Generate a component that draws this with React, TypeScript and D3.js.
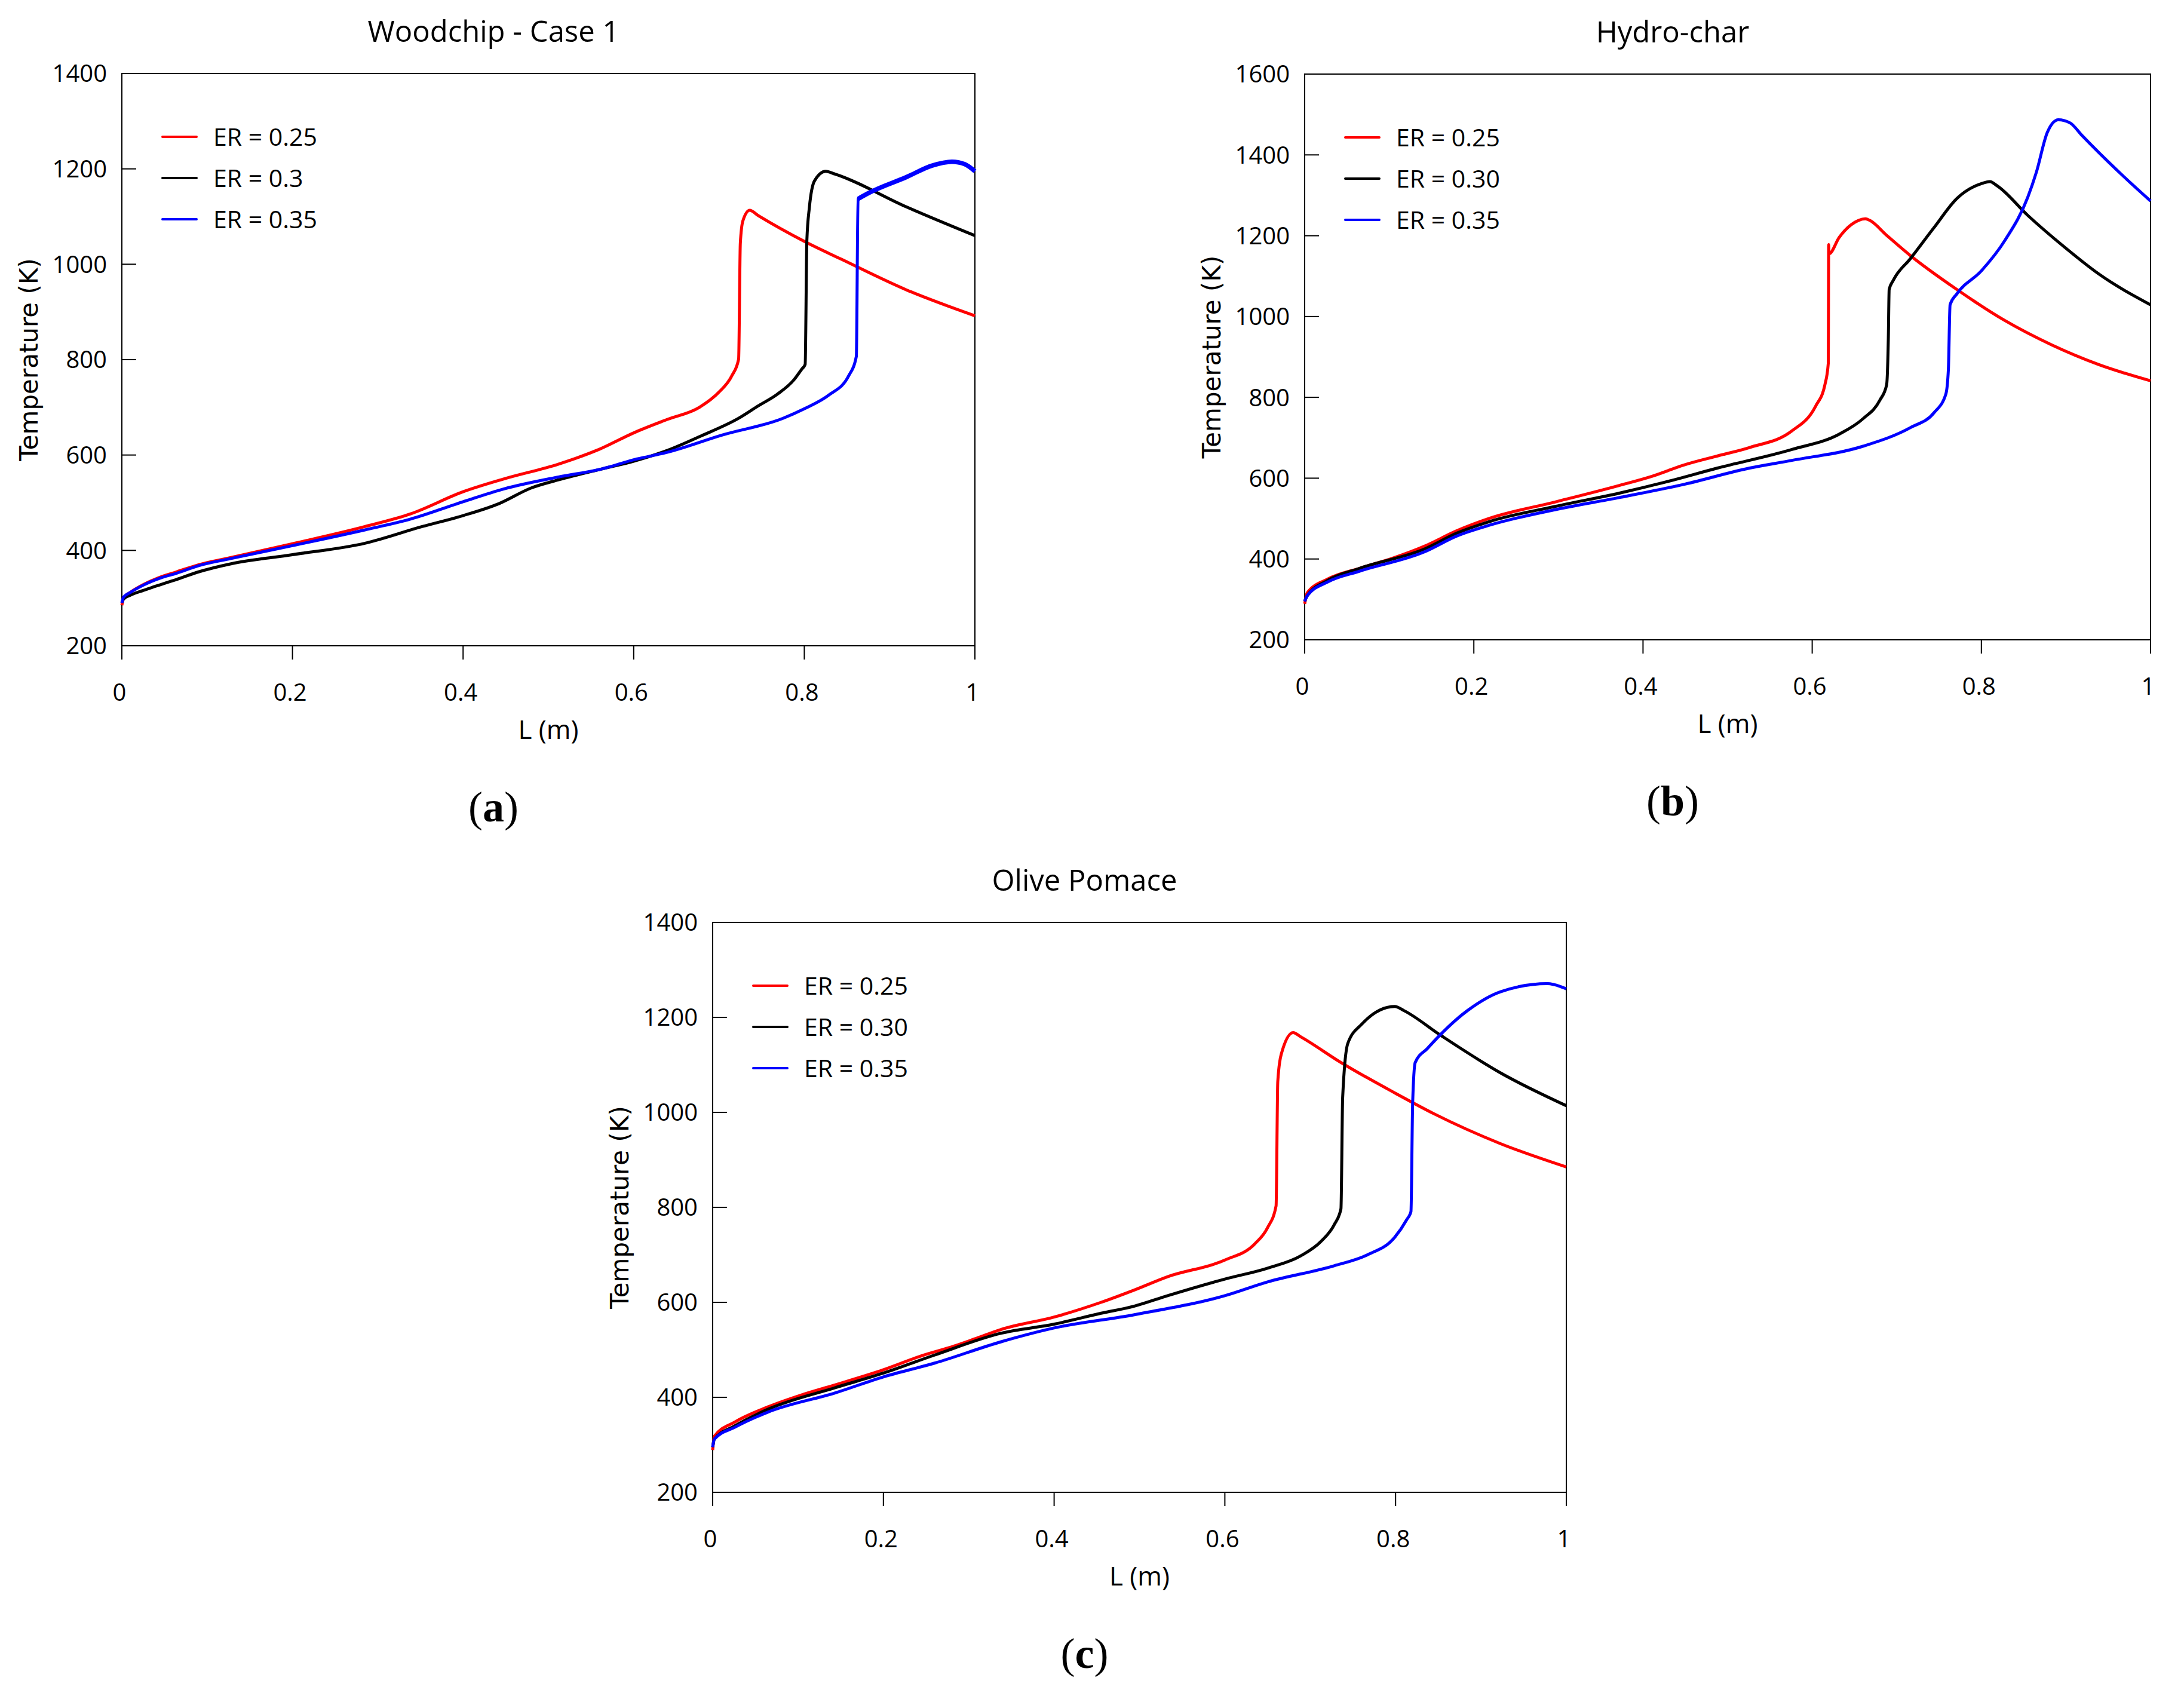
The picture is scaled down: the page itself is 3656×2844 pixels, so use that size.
import * as d3 from 'd3';

type Pt = [number, number];

// L (m), Temperature (K)
const woodchip025: Pt[] = [
  [0, 285], [0.002, 300], [0.01, 312], [0.025, 328], [0.045, 344], [0.064, 355], [0.09, 370],
  [0.128, 385], [0.2, 414], [0.285, 450], [0.339, 477], [0.4, 523], [0.448, 550], [0.512, 581],
  [0.557, 610], [0.602, 648], [0.64, 675], [0.677, 700], [0.7, 732], [0.715, 766], [0.723, 801],
  [0.725, 1044], [0.728, 1091], [0.736, 1113], [0.746, 1102], [0.8, 1048], [0.844, 1010],
  [0.92, 946], [1, 892],
];
const woodchip030: Pt[] = [
  [0, 290], [0.002, 298], [0.01, 306], [0.025, 316], [0.045, 328], [0.064, 339], [0.09, 355],
  [0.128, 372], [0.2, 391], [0.285, 415], [0.352, 450], [0.4, 473], [0.442, 498], [0.48, 531],
  [0.512, 548], [0.563, 571], [0.6, 587], [0.64, 610], [0.679, 640], [0.723, 677], [0.746, 703],
  [0.768, 727], [0.788, 758], [0.797, 780], [0.801, 790], [0.803, 1050], [0.806, 1120],
  [0.812, 1175], [0.825, 1195], [0.836, 1189], [0.92, 1120], [1, 1060],
];
const woodchip035: Pt[] = [
  [0, 290], [0.002, 302], [0.01, 312], [0.025, 327], [0.045, 342], [0.064, 352], [0.09, 368],
  [0.128, 383], [0.2, 410], [0.285, 443], [0.339, 466], [0.4, 502], [0.448, 529], [0.512, 554],
  [0.563, 571], [0.6, 590], [0.64, 606], [0.704, 642], [0.775, 677], [0.8, 697], [0.829, 726],
  [0.852, 766], [0.861, 807], [0.863, 1137], [0.875, 1149], [0.92, 1183], [0.95, 1207],
  [0.973, 1215], [0.988, 1210], [1, 1195],
];

const hydrochar025: Pt[] = [
  [0, 289], [0.003, 316], [0.027, 350], [0.065, 377], [0.104, 402], [0.142, 432], [0.18, 470],
  [0.219, 501], [0.296, 541], [0.372, 582], [0.411, 605], [0.449, 633], [0.488, 655], [0.526, 676],
  [0.576, 717], [0.604, 778], [0.615, 831], [0.619, 884], [0.6195, 1178], [0.6198, 1155],
  [0.632, 1196], [0.646, 1227], [0.663, 1242], [0.668, 1238], [0.688, 1201], [0.716, 1151],
  [0.771, 1067], [0.827, 991], [0.883, 930], [0.939, 881], [1, 841],
];
const hydrochar030: Pt[] = [
  [0, 295], [0.003, 309], [0.027, 347], [0.065, 377], [0.142, 425], [0.18, 464], [0.219, 493],
  [0.296, 530], [0.372, 563], [0.426, 590], [0.488, 625], [0.576, 671], [0.632, 709], [0.66, 747],
  [0.68, 793], [0.688, 831], [0.69, 945], [0.691, 1067], [0.696, 1090], [0.716, 1143], [0.744, 1220],
  [0.771, 1292], [0.8, 1329], [0.81, 1334], [0.819, 1323], [0.855, 1250], [0.897, 1174],
  [0.939, 1105], [1, 1029],
];
const hydrochar035: Pt[] = [
  [0, 295], [0.003, 309], [0.027, 343], [0.065, 370], [0.142, 418], [0.18, 457], [0.219, 484],
  [0.296, 522], [0.372, 552], [0.449, 585], [0.526, 625], [0.576, 644], [0.66, 679], [0.716, 725],
  [0.744, 762], [0.758, 808], [0.761, 869], [0.763, 1029], [0.771, 1056], [0.8, 1113], [0.828, 1189],
  [0.855, 1296], [0.865, 1357], [0.878, 1456], [0.891, 1487], [0.905, 1479], [0.919, 1448],
  [0.967, 1349], [1, 1286],
];

const olive025: Pt[] = [
  [0, 289], [0.002, 318], [0.026, 348], [0.065, 380], [0.104, 405], [0.143, 426], [0.2, 458],
  [0.244, 487], [0.283, 508], [0.307, 523], [0.338, 543], [0.4, 569], [0.455, 600], [0.494, 626],
  [0.533, 654], [0.6, 689], [0.635, 723], [0.65, 757], [0.66, 803], [0.662, 1065], [0.666, 1122],
  [0.68, 1168], [0.689, 1159], [0.736, 1105], [0.8, 1040], [0.845, 997], [0.923, 934], [1, 885],
];
const olive030: Pt[] = [
  [0, 295], [0.002, 312], [0.026, 340], [0.065, 375], [0.143, 420], [0.2, 451], [0.26, 489],
  [0.338, 535], [0.4, 554], [0.455, 577], [0.494, 592], [0.533, 614], [0.6, 649], [0.65, 672],
  [0.689, 698], [0.713, 729], [0.728, 763], [0.736, 797], [0.738, 1031], [0.744, 1145], [0.76, 1185],
  [0.799, 1223], [0.81, 1214], [0.853, 1162], [0.923, 1083], [1, 1014],
];
const olive035: Pt[] = [
  [0, 295], [0.002, 312], [0.026, 337], [0.065, 369], [0.143, 409], [0.2, 443], [0.26, 472],
  [0.338, 517], [0.4, 546], [0.494, 574], [0.6, 614], [0.65, 643], [0.728, 677], [0.767, 700],
  [0.799, 737], [0.813, 774], [0.818, 791], [0.82, 1020], [0.823, 1105], [0.837, 1134], [0.884, 1214],
  [0.923, 1254], [0.978, 1271], [0.993, 1265], [1, 1260],
];

const xTicks = [0, 0.2, 0.4, 0.6, 0.8, 1];
const yTicks1400 = [200, 400, 600, 800, 1000, 1200, 1400];
const yTicks1600 = [200, 400, 600, 800, 1000, 1200, 1400, 1600];
const legendA = ['ER = 0.25', 'ER = 0.3', 'ER = 0.35'];
const legendBC = ['ER = 0.25', 'ER = 0.30', 'ER = 0.35'];
const colors = ['#ff0000', '#000000', '#0000ff'];

const SANS = "'Open Sans', 'Noto Sans', sans-serif";

type PanelProps = {
  box: [number, number, number, number];
  yTicks: number[];
  title: string;
  tag: string;
  legend: string[];
  series: Pt[][];
  thickFrom?: number;
};

function Panel({ box, yTicks, title, tag, legend, series, thickFrom }: PanelProps) {
  const [left, top, right, bottom] = box;
  const x = d3.scaleLinear().domain([0, 1]).range([left, right]);
  const y = d3.scaleLinear().domain([200, yTicks[yTicks.length - 1]]).range([bottom, top]);
  const line = d3
    .line<Pt>()
    .x((d) => x(d[0]))
    .y((d) => y(d[1]))
    .curve(d3.curveMonotoneX);
  const cx = (left + right) / 2;
  const cy = (top + bottom) / 2;

  return (
    <g>
      <text x={cx - 92} y={top - 53} textAnchor="middle" fontFamily={SANS} fontSize={49}>
        {title}
      </text>
      <rect x={left} y={top} width={right - left} height={bottom - top} fill="none" stroke="#000" strokeWidth={2} />
      {yTicks.map((t) => (
        <g key={t}>
          <line x1={left} x2={left + 24} y1={y(t)} y2={y(t)} stroke="#000" strokeWidth={2} />
          <text x={left - 25} y={y(t)} dy="0.36em" textAnchor="end" fontFamily={SANS} fontSize={40}>
            {t}
          </text>
        </g>
      ))}
      {xTicks.map((t) => (
        <g key={t}>
          <line x1={x(t)} x2={x(t)} y1={bottom} y2={bottom + 23} stroke="#000" strokeWidth={2} />
          <text x={x(t) - 4} y={bottom + 92} textAnchor="middle" fontFamily={SANS} fontSize={40}>
            {t}
          </text>
        </g>
      ))}
      <text x={cx} y={bottom + 156} textAnchor="middle" fontFamily={SANS} fontSize={44}>
        L (m)
      </text>
      <text
        transform={`translate(${left - 141},${cy}) rotate(-90)`}
        textAnchor="middle"
        fontFamily="'DejaVu Sans', Verdana, sans-serif"
        fontSize={42}
      >
        Temperature (K)
      </text>
      {series.map((s, i) => (
        <path key={i} d={line(s) ?? ''} fill="none" stroke={colors[i]} strokeWidth={5} strokeLinejoin="round" />
      ))}
      {thickFrom !== undefined && (
        <path
          d={line(series[2].filter((d) => d[0] >= thickFrom)) ?? ''}
          fill="none"
          stroke={colors[2]}
          strokeWidth={7.5}
          strokeLinejoin="round"
        />
      )}
      {legend.map((label, i) => {
        const ly = top + 106 + i * 69;
        return (
          <g key={label}>
            <line x1={left + 68} x2={left + 125} y1={ly} y2={ly} stroke={colors[i]} strokeWidth={4} strokeLinecap="round" />
            <text x={left + 153} y={ly + 15} fontFamily={SANS} fontSize={41}>
              {label}
            </text>
          </g>
        );
      })}
      <text x={cx - 92} y={bottom + 294} textAnchor="middle" fontFamily="'Liberation Serif', 'DejaVu Serif', serif" fontSize={72}>
        (<tspan fontWeight="bold">{tag}</tspan>)
      </text>
    </g>
  );
}

export default function App() {
  return (
    <svg
      width={3656}
      height={2844}
      viewBox="0 0 3656 2844"
      style={{ position: 'absolute', left: 0, top: 0, background: '#fff' }}
    >
      <rect width={3656} height={2844} fill="#fff" />
      <Panel
        box={[204, 123, 1632, 1081]}
        yTicks={yTicks1400}
        title="Woodchip - Case 1"
        tag="a"
        legend={legendA}
        series={[woodchip025, woodchip030, woodchip035]}
        thickFrom={0.863}
      />
      <Panel
        box={[2184, 124, 3600, 1071]}
        yTicks={yTicks1600}
        title="Hydro-char"
        tag="b"
        legend={legendBC}
        series={[hydrochar025, hydrochar030, hydrochar035]}
      />
      <Panel
        box={[1193, 1544, 2622, 2498]}
        yTicks={yTicks1400}
        title="Olive Pomace"
        tag="c"
        legend={legendBC}
        series={[olive025, olive030, olive035]}
      />
    </svg>
  );
}
